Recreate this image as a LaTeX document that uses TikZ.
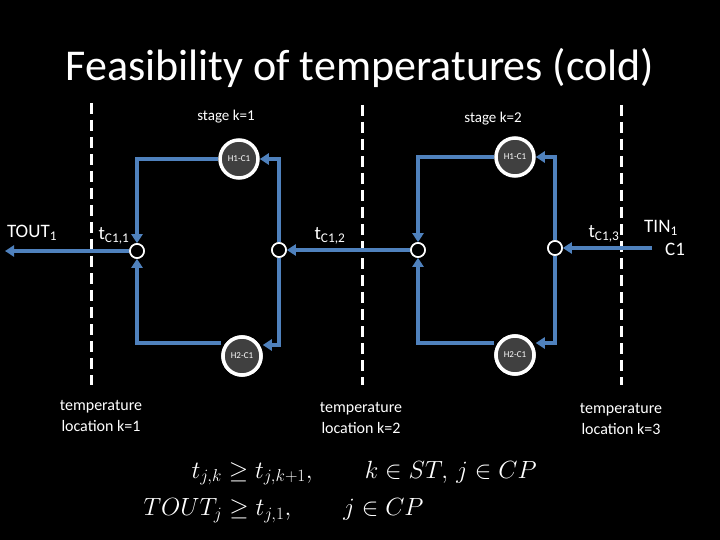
\documentclass[tikz,border=0pt]{standalone}
\usepackage{fontspec}
\setmainfont{Carlito}
\usetikzlibrary{arrows.meta}
\definecolor{bl}{RGB}{79,129,189}
\definecolor{hx}{RGB}{64,64,64}
\begin{document}
\begin{tikzpicture}[x=1pt,y=-1pt,
  flow/.style={bl,line width=3.5pt},
  arr/.style={flow,-{Triangle[length=9pt,width=11pt]}},
  mix/.style={circle,draw=white,fill=black,line width=1.6pt,minimum size=14pt,inner sep=0pt},
  hx/.style={circle,draw=white,fill=hx,line width=3.5pt,minimum size=38pt,inner sep=0pt,text=white,font=\fontsize{9}{10}\selectfont},
  bound/.style={white,line width=3pt,dash pattern=on 11pt off 6pt},
  lab/.style={text=white,font=\fontsize{15}{17}\selectfont}]
\fill[black] (0,0) rectangle (720,540);
\useasboundingbox (0,0) rectangle (720,540);
\node[text=white,font=\fontsize{44}{48}\selectfont] (title) at (360,68) {Feasibility of temperatures (cold)};
\draw[bound] (91,103) -- (91,385);
\draw[bound] (362,105) -- (362,385);
\draw[bound] (621,105) -- (621,385);
\node[lab] (s1) at (226,117) {stage k=1};
\node[lab] (s2) at (493,119) {stage k=2};
% loop 1
\coordinate (a1) at (137,159); \coordinate (b1) at (279,159);
\coordinate (c1) at (137,343); \coordinate (d1) at (279,345);
\node[mix] (m1) at (137,251) {};
\node[mix] (m2) at (279,250) {};
\node[hx] (h11) at (239,159) {H1-C1};
\node[hx] (h21) at (242,356) {H2-C1};
% loop 2
\coordinate (a2) at (418,157); \coordinate (b2) at (555,157);
\coordinate (c2) at (418,343); \coordinate (d2) at (555,343);
\node[mix] (m3) at (418,250) {};
\node[mix] (m4) at (555,248) {};
\node[hx] (h12) at (515,157) {H1-C1};
\node[hx] (h22) at (515,355) {H2-C1};
\coordinate (tout) at (5,251);
\coordinate (tin) at (652,248);
% connectors loop1
\draw[arr] (m2.north) -- (b1) -- (h11.east);
\draw[arr] (h11.west) -- (a1) -- (m1.north);
\draw[arr] (m2.south) -- (d1) -- (h21.east |- d1);
\draw[arr] (h21.west |- c1) -- (c1) -- (m1.south);
\draw[arr] (m1.west) -- (tout);
\draw[arr] (m3.west) -- (m2.east);
% loop2
\draw[arr] (m4.north) -- (b2) -- (h12.east);
\draw[arr] (h12.west) -- (a2) -- (m3.north);
\draw[arr] (m4.south) -- (d2) -- (h22.east |- d2);
\draw[arr] (h22.west |- c2) -- (c2) -- (m3.south);
\draw[arr] (tin) -- (m4.east);
\node[hx] at (h21) {H2-C1};
\node[hx] at (h22) {H2-C1};
\node[mix] at (m1) {};
\node[mix] at (m2) {};
\node[mix] at (m3) {};
\node[mix] at (m4) {};
% labels
\node[lab,font=\fontsize{19}{21}\selectfont] (l0) at (32,233) {TOUT\textsubscript{1}};
\node[lab,font=\fontsize{19}{21}\selectfont] (l1) at (114,236) {t\textsubscript{C1,1}};
\node[lab,font=\fontsize{19}{21}\selectfont] (l2) at (330,236) {t\textsubscript{C1,2}};
\node[lab,font=\fontsize{19}{21}\selectfont] (l3) at (604,234) {t\textsubscript{C1,3}};
\node[lab,font=\fontsize{19}{21}\selectfont] (l4) at (661,228) {TIN\textsubscript{1}};
\node[lab,font=\fontsize{19}{21}\selectfont] (l5) at (675,249) {C1};
\node[lab,align=center,font=\fontsize{16}{21}\selectfont] (t1) at (101,416) {temperature\\location k=1};
\node[lab,align=center,font=\fontsize{16}{21}\selectfont] (t2) at (361,418) {temperature\\location k=2};
\node[lab,align=center,font=\fontsize{16}{21}\selectfont] (t3) at (621,419) {temperature\\location k=3};
\node[text=white,anchor=west,font=\fontsize{24}{27}\selectfont] (e1) at (188,473) {$t_{j,k} \ge t_{j,k+1},\qquad k\in ST,\, j\in CP$};
\node[text=white,anchor=west,font=\fontsize{24}{27}\selectfont] (e2) at (140,511) {$TOUT_j \ge t_{j,1},\qquad j\in CP$};
\end{tikzpicture}
\end{document}
